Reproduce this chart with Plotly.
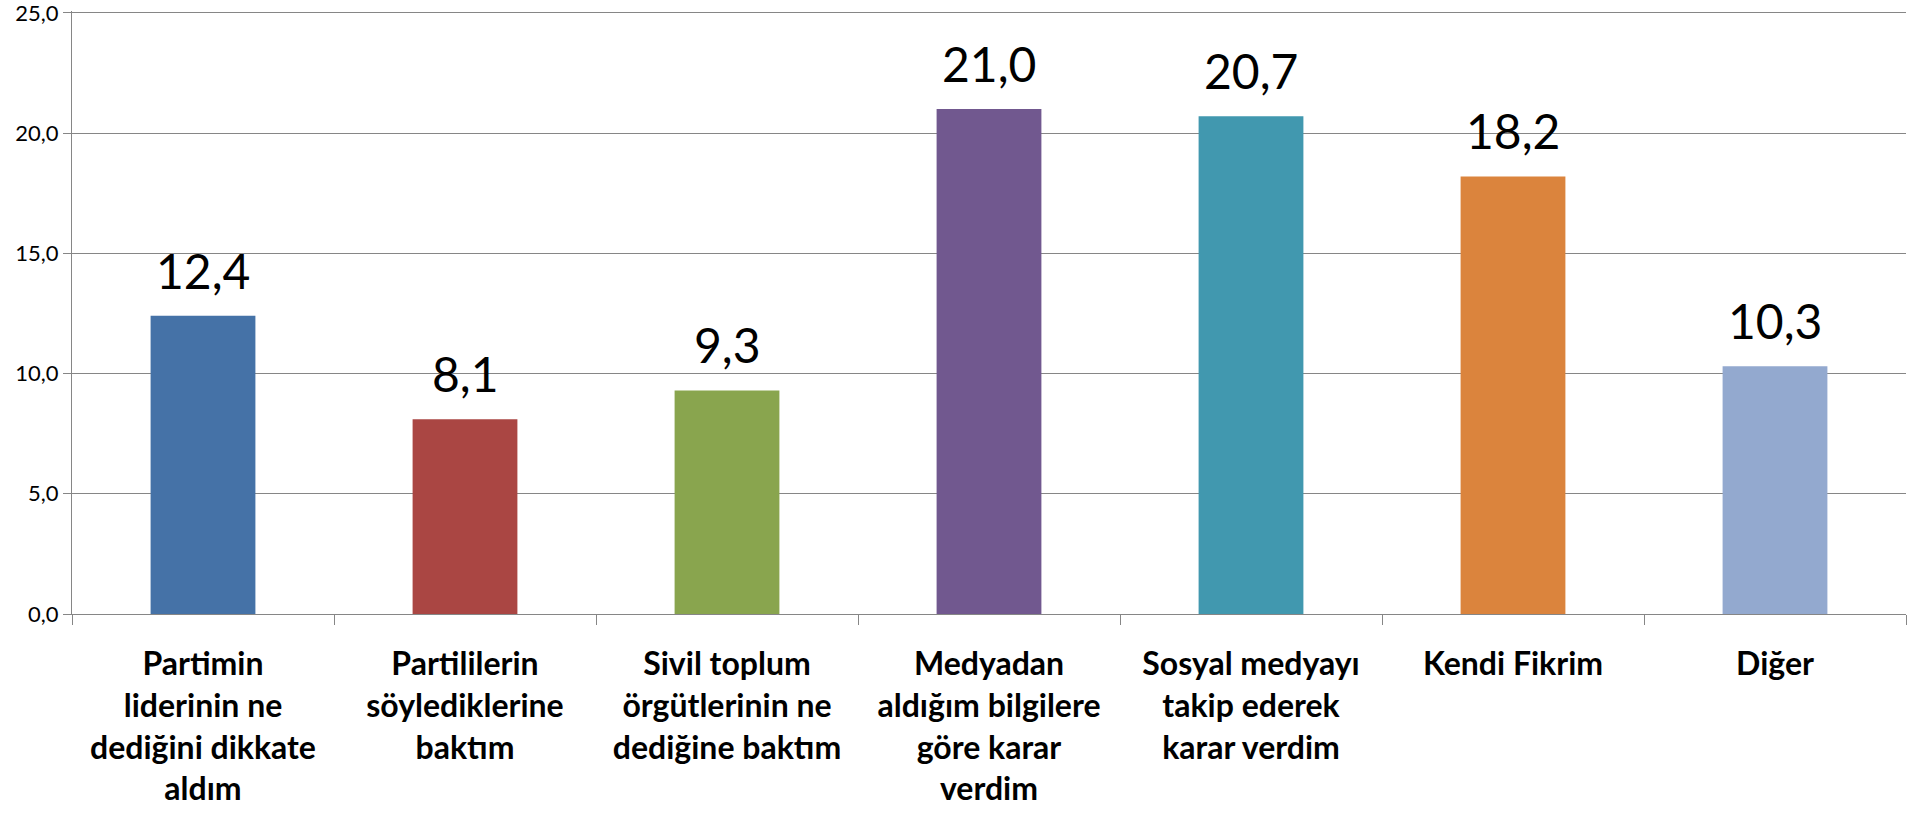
import plotly.graph_objects as go

categories = [
    "Partimin<br>liderinin ne<br>dediğini dikkate<br>aldım",
    "Partililerin<br>söylediklerine<br>baktım",
    "Sivil toplum<br>örgütlerinin ne<br>dediğine baktım",
    "Medyadan<br>aldığım bilgilere<br>göre karar<br>verdim",
    "Sosyal medyayı<br>takip ederek<br>karar verdim",
    "Kendi Fikrim",
    "Diğer",
]
values = [12.4, 8.1, 9.3, 21.0, 20.7, 18.2, 10.3]
colors = ["#4572A7", "#AA4643", "#89A54E", "#71588F", "#4198AF", "#DB843D", "#93A9CF"]
y_ticks = [0, 5, 10, 15, 20, 25]

fig = go.Figure(go.Bar(
    x=categories, y=values, marker_color=colors, marker_line_width=0,
    width=0.4, hoverinfo="x+y",
))

for c, v in zip(categories, values):
    fig.add_annotation(
        x=c, y=v, text=f"{v:.1f}".replace(".", ","), showarrow=False,
        yanchor="bottom", yshift=15,
        font=dict(family="Lato", size=48, color="black"),
    )

fig.update_layout(
    width=1907, height=815, separators=",.",
    paper_bgcolor="white", plot_bgcolor="white",
    margin=dict(l=72, r=1, t=11, b=201),
    showlegend=False, font=dict(family="Lato"),
)
fig.update_yaxes(
    range=[0, 25.08], tickvals=y_ticks, tickformat=".1f", automargin=False,
    ticklabeloverflow="allow",
    showgrid=True, gridcolor="#868686", gridwidth=1,
    showline=True, linecolor="#868686", linewidth=1,
    ticks="outside", ticklen=8, tickcolor="#868686",
    tickfont=dict(family="Lato", size=22, color="black"), zeroline=False,
)
fig.update_xaxes(
    showline=True, linecolor="#868686", linewidth=1, automargin=False,
    ticks="outside", ticklen=10, tickcolor="#868686", tickson="boundaries",
    tickangle=0, ticklabelstandoff=22,
    tickfont=dict(family="Lato", size=32, color="black", weight="bold"),
)

fig.write_html("out.html", config={"displayModeBar": False},
               post_script="document.body.style.margin='0';")
